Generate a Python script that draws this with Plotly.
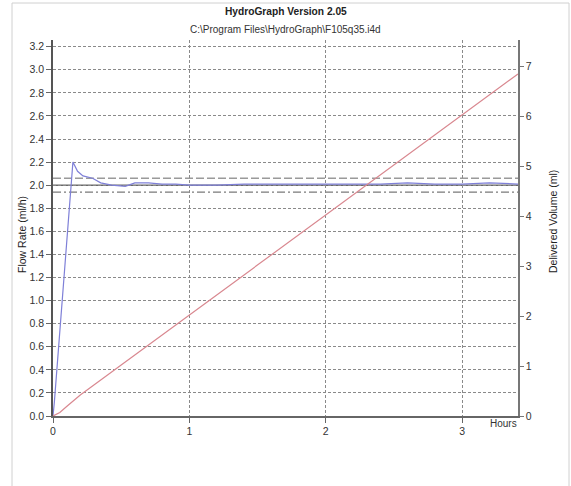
import plotly.graph_objects as go

# ---- data ----
flow_hours = [0, 0.01, 0.146, 0.18, 0.22, 0.29, 0.35, 0.43, 0.53, 0.6, 0.7, 0.8,
              0.9, 1.0, 1.2, 1.4, 1.6, 1.8, 2.0, 2.2, 2.4, 2.6, 2.8, 3.0, 3.2, 3.41]
flow_rate = [0, 0.12, 2.2, 2.12, 2.08, 2.06, 2.02, 2.0, 1.99, 2.02, 2.02, 2.01,
             2.01, 2.0, 2.0, 2.01, 2.01, 2.01, 2.01, 2.01, 2.01, 2.02, 2.01, 2.01, 2.02, 2.01]

vol_hours = [0, 0.05, 0.1, 0.2, 0.5, 1.0, 1.5, 2.0, 2.5, 3.0, 3.41]
delivered_volume = [0, 0.07, 0.19, 0.42, 1.02, 2.02, 3.02, 4.02, 5.02, 6.02, 6.84]

target_rate = 2.0
upper_limit = 2.06
lower_limit = 1.94

x_ticks = [0, 1, 2, 3]
y_ticks = [round(0.2 * i, 1) for i in range(17)]
y2_ticks = [0, 1, 2, 3, 4, 5, 6, 7]

title_text = "HydroGraph Version 2.05"
subtitle_text = "C:\\Program Files\\HydroGraph\\F105q35.i4d"

X_MAX = 3.41
Y_MAX = 3.258
Y2_MAX = 7.52

FONT = "Arial, Liberation Sans, sans-serif"
TXT = "#333333"

fig = go.Figure()

fig.add_trace(go.Scatter(x=flow_hours, y=flow_rate, mode="lines",
                         line=dict(color="#7f80d8", width=1.2),
                         showlegend=False, yaxis="y"))
fig.add_trace(go.Scatter(x=vol_hours, y=delivered_volume, mode="lines",
                         line=dict(color="#d98890", width=1.2),
                         showlegend=False, yaxis="y2"))

# reference lines
for val, dash, col, w in [(target_rate, "solid", "#6a6a6a", 1.4),
                          (upper_limit, "8px,3px", "#9a9a9a", 1.6),
                          (lower_limit, "8px,3px,2px,3px", "#7a7a7a", 1.3)]:
    fig.add_shape(type="line", xref="x", yref="y", x0=0, x1=X_MAX, y0=val, y1=val,
                  line=dict(color=col, width=w, dash=dash), layer="below")

# outer border
fig.add_shape(type="rect", xref="paper", yref="paper",
              x0=(12 - 53) / 465, x1=(569 - 53) / 465,
              y0=(416 - 500) / 376, y1=(416 - 3) / 376,
              line=dict(color="#d0d0d0", width=1), layer="below")

fig.update_layout(
    width=571, height=486,
    margin=dict(l=53, r=53, t=40, b=70),
    paper_bgcolor="white", plot_bgcolor="white",
    font=dict(family=FONT, size=10.5, color=TXT),
    xaxis=dict(range=[0, X_MAX], tickvals=x_ticks, showgrid=True,
               gridcolor="#8a8a8a", griddash="3px,2px", gridwidth=1,
               showline=True, linecolor="#666666", linewidth=1.5,
               ticks="outside", ticklen=5, tickcolor="#666666",
               zeroline=False, tickfont=dict(size=10.5, color=TXT)),
    yaxis=dict(range=[0, Y_MAX], tickvals=y_ticks, tickformat=".1f",
               showgrid=True, gridcolor="#8a8a8a", griddash="3px,2px", gridwidth=1,
               showline=True, linecolor="#555555", linewidth=1.5,
               ticks="outside", ticklen=5, tickcolor="#666666",
               zeroline=False, tickfont=dict(size=10.5, color=TXT)),
    yaxis2=dict(range=[0, Y2_MAX], tickvals=y2_ticks, overlaying="y", side="right",
                showgrid=False, showline=True, linecolor="#777777", linewidth=1.5,
                ticks="outside", ticklen=4, tickcolor="#777777", zeroline=False,
                tickfont=dict(size=10.5, color=TXT)),
    annotations=[
        dict(text="<b>" + title_text + "</b>", xref="paper", yref="paper",
             x=0.5, y=(416 - 12) / 376, showarrow=False, xanchor="center",
             yanchor="middle", font=dict(size=10.2, color="#222222")),
        dict(text=subtitle_text, xref="paper", yref="paper",
             x=0.5, y=(416 - 30) / 376, showarrow=False, xanchor="center",
             yanchor="middle", font=dict(size=10, color="#333333")),
        dict(text="Flow Rate (ml/h)", xref="paper", yref="paper",
             x=(22 - 53) / 465, y=(416 - 235) / 376, textangle=-90, showarrow=False,
             xanchor="center", yanchor="middle", font=dict(size=10.5, color="#222222")),
        dict(text="Delivered Volume (ml)", xref="paper", yref="paper",
             x=(553 - 53) / 465, y=(416 - 222) / 376, textangle=-90, showarrow=False,
             xanchor="center", yanchor="middle", font=dict(size=10.5, color="#222222")),
        dict(text="Hours", xref="paper", yref="paper",
             x=(503 - 53) / 465, y=(416 - 423) / 376, showarrow=False,
             xanchor="center", yanchor="middle", font=dict(size=10, color="#333333")),
    ],
)

fig.write_html("out.html", config={"displayModeBar": False},
               post_script="document.body.style.margin='0';document.body.style.overflow='hidden';")
